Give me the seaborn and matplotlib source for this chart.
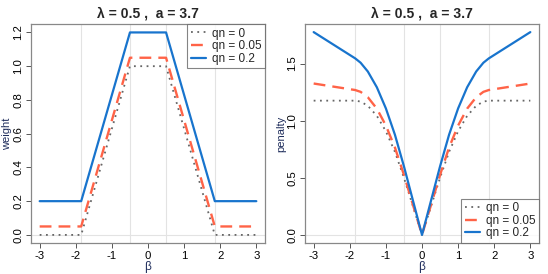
import matplotlib
matplotlib.use("Agg")
import matplotlib.pyplot as plt
import seaborn as sns
import pandas as pd

# ---- data ----
qn_labels = ["qn = 0", "qn = 0.05", "qn = 0.2"]

beta_w = [-3, -1.85, -0.5, 0.5, 1.85, 3]
weight_q0 = [0.0, 0.0, 1.0, 1.0, 0.0, 0.0]
weight_q005 = [0.05, 0.05, 1.05, 1.05, 0.05, 0.05]
weight_q02 = [0.2, 0.2, 1.2, 1.2, 0.2, 0.2]

beta_p = [-3, -1.85, -1.7, -1.5, -1.25, -1.0, -0.75, -0.5, 0,
          0.5, 0.75, 1.0, 1.25, 1.5, 1.7, 1.85, 3]
pen_q0 = [1.175, 1.175, 1.167, 1.130, 1.042, 0.907, 0.727, 0.5, 0,
          0.5, 0.727, 0.907, 1.042, 1.130, 1.167, 1.175, 1.175]
pen_q005 = [1.325, 1.268, 1.252, 1.205, 1.105, 0.957, 0.765, 0.525, 0,
            0.525, 0.765, 0.957, 1.105, 1.205, 1.252, 1.268, 1.325]
pen_q02 = [1.775, 1.545, 1.507, 1.430, 1.292, 1.107, 0.877, 0.6, 0,
           0.6, 0.877, 1.107, 1.292, 1.430, 1.507, 1.545, 1.775]

grid_x = [-1.85, -0.5, 0.5, 1.85]
x_ticks = [-3, -2, -1, 0, 1, 2, 3]
title = "λ = 0.5 ,  a = 3.7"

sns.set_theme(style="white")
plt.rcParams['font.family'] = ['Liberation Sans', 'DejaVu Sans']

colors = ["#666666", "#FF6347", "#1874CD"]
styles = [dict(ls=(0, (1, 2.5)), lw=1.3), dict(ls=(0, (5, 3)), lw=1.7), dict(ls="-", lw=1.6)]

fig = plt.figure(figsize=(5.48, 2.74), dpi=100)
W, H = 548, 274
ax1 = fig.add_axes([31 / W, (H - 243) / H, 234 / W, 219 / H])
ax2 = fig.add_axes([305 / W, (H - 243) / H, 234 / W, 219 / H])

def style_axes(ax, ylabel, yticks, ylim):
    ax.set_xlim(-3.24, 3.24)
    ax.set_ylim(*ylim)
    for g in grid_x:
        ax.axvline(g, color="#e3e3e3", lw=0.8, zorder=0)
    ax.axhline(0, color="#e3e3e3", lw=0.8, zorder=0)
    ax.set_xticks(x_ticks)
    ax.set_xticklabels([str(t) for t in x_ticks])
    ax.set_yticks(yticks)
    ax.set_yticklabels([f"{t:.1f}" for t in yticks], rotation=90, va="center")
    ax.tick_params(axis="both", direction="out", length=3.5, width=0.7,
                   colors="#555555", labelcolor="black", labelsize=8.2, pad=2,
                   bottom=True, left=True)
    for s in ax.spines.values():
        s.set_color("#888888")
        s.set_linewidth(0.9)
    ax.set_xlabel("β", fontsize=8.5, color="#1f2d5c", labelpad=0)
    ax.set_ylabel(ylabel, fontsize=8, color="#1f2d5c", labelpad=1)
    ax.set_title(title, fontsize=10, fontweight="bold", pad=5)

for y, lab, c, st in zip([weight_q0, weight_q005, weight_q02], qn_labels, colors, styles):
    df = pd.DataFrame({"beta": beta_w, "w": y})
    sns.lineplot(data=df, x="beta", y="w", ax=ax1, color=c, label=lab,
                 sort=False, estimator=None, linestyle=st["ls"], linewidth=st["lw"])
for y, lab, c, st in zip([pen_q0, pen_q005, pen_q02], qn_labels, colors, styles):
    df = pd.DataFrame({"beta": beta_p, "p": y})
    sns.lineplot(data=df, x="beta", y="p", ax=ax2, color=c, label=lab,
                 sort=False, estimator=None, linestyle=st["ls"], linewidth=st["lw"])

style_axes(ax1, "weight", [0.0, 0.2, 0.4, 0.6, 0.8, 1.0, 1.2], (-0.048, 1.25))
style_axes(ax2, "penalty", [0.0, 0.5, 1.0, 1.5], (-0.071, 1.846))

for ax, loc in [(ax1, "upper right"), (ax2, "lower right")]:
    leg = ax.legend(loc=loc, fontsize=8.5, frameon=True, fancybox=False,
                    borderaxespad=0, handlelength=1.3, handletextpad=0.5,
                    borderpad=0.3, labelspacing=0.05)
    leg.get_frame().set_edgecolor("#666666")
    leg.get_frame().set_linewidth(0.8)

fig.savefig("out.png", dpi=100)
